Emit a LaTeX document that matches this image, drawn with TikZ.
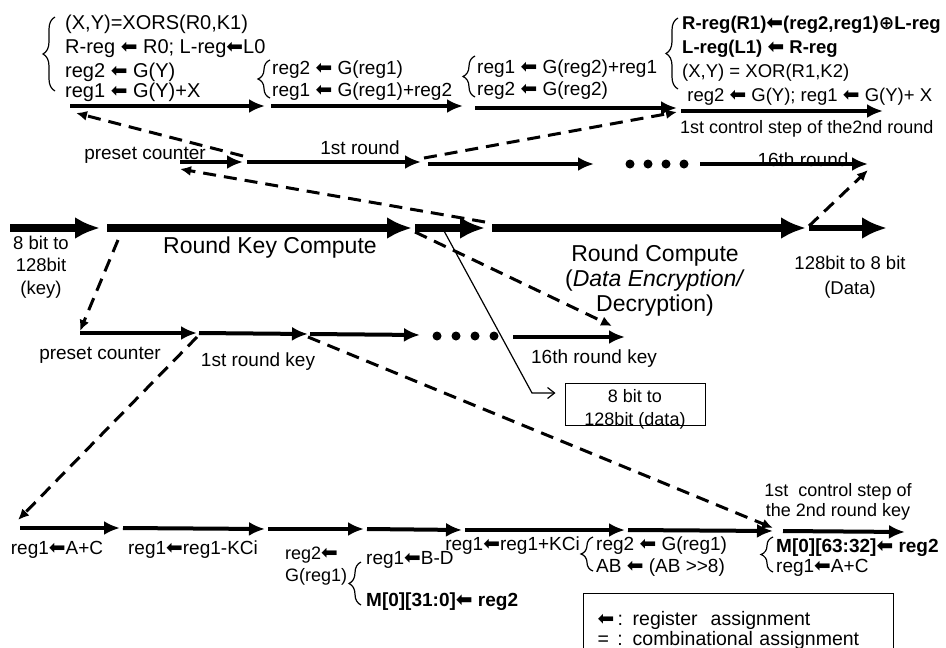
\documentclass[tikz,border=0pt]{standalone}
\usepackage{fontspec}
\setmainfont{Liberation Sans}
\newfontfamily\symfont{DejaVu Sans}
\usetikzlibrary{arrows.meta,decorations.pathreplacing}

\newcommand{\asg}{{\symfont\fontsize{20}{20}\selectfont ⬅}}
\newcommand{\xorop}{{\symfont ⊕}}

\begin{document}
\begin{tikzpicture}[x=1pt,y=-1pt,
  txt/.style={font=\fontsize{19}{24}\selectfont, inner sep=0pt},
  big/.style={font=\fontsize{23}{25}\selectfont, inner sep=0pt},
  ctl/.style={line width=4pt, -{Latex[length=16pt,width=14pt]}},
  fat/.style={line width=8.5pt, -{Latex[length=25pt,width=22pt]}},
  dsh/.style={line width=3pt, dash pattern=on 13pt off 8pt, -{Latex[length=11pt,width=10pt]}},
  brc/.style={decorate, decoration={brace, amplitude=12pt}, line width=1.2pt}]
  \useasboundingbox (0,0) rectangle (946,648);
  %
  \coordinate (a0) at (70,106);
  \coordinate (a1) at (265,106);
  \coordinate (a2) at (271,106);
  \coordinate (a3) at (463,106);
  \coordinate (a4) at (475,108);
  \coordinate (a5) at (677,108);
  \coordinate (a6) at (681,111);
  \coordinate (a7) at (883,111);
  %
  \coordinate (b0) at (180,162);
  \coordinate (b1) at (243,162);
  \coordinate (b2) at (247,162);
  \coordinate (b3) at (421,162);
  \coordinate (b4) at (428,164);
  \coordinate (b5) at (594,164);
  \coordinate (b6) at (700,164);
  \coordinate (b7) at (868,164);
  %
  \coordinate (c0) at (10,228);
  \coordinate (c1) at (100,228);
  \coordinate (c2) at (107,228);
  \coordinate (c3) at (412,228);
  \coordinate (c4) at (415,228);
  \coordinate (c5) at (485,228);
  \coordinate (c6) at (492,228);
  \coordinate (c7) at (806,228);
  \coordinate (c8) at (809,228);
  \coordinate (c9) at (887,228);
  %
  \coordinate (d0) at (80,333);
  \coordinate (d1) at (197,333);
  \coordinate (d2) at (308,334);
  \coordinate (d3) at (420,335);
  \coordinate (d4) at (513,337);
  \coordinate (d5) at (625,337);
  %
  \coordinate (e0) at (20,528);
  \coordinate (e1) at (120,528);
  \coordinate (e2) at (265,529);
  \coordinate (e3) at (364,529);
  \coordinate (e4) at (462,530);
  \coordinate (e5) at (625,530);
  \coordinate (e6) at (773,531);
  \coordinate (e7) at (783,531);
  \coordinate (e8) at (905,532);
  %
  \draw[ctl] (a0) -- (a1);
  \draw[ctl] (a2) -- (a3);
  \draw[ctl] (a4) -- (a5);
  \draw[ctl] (a6) -- (a7);
  %
  \draw[ctl] (b0) -- (b1);
  \draw[ctl] (b2) -- (b3);
  \draw[ctl] (b4) -- (b5);
  \draw[ctl] (b6) -- (b7);
  \foreach \x in {630,648,666,684} \fill (\x,164) circle (4.5pt);
  %
  \draw[fat] (c0) -- (c1);
  \draw[fat] (c2) -- (c3);
  \draw[fat] (c4) -- (c5);
  \draw[fat] (c6) -- (c7);
  \draw[fat, line width=6.5pt] (c8) -- (c9);
  %
  \draw[ctl] (d0) -- (d1);
  \draw[ctl] ([xshift=2pt]d1) -- (d2);
  \draw[ctl] ([xshift=2pt]d2) -- (d3);
  \draw[ctl] (d4) -- (d5);
  \foreach \x in {437,456,475,494} \fill (\x,336) circle (4.5pt);
  %
  \draw[ctl] (e0) -- (e1);
  \draw[ctl] ([xshift=3pt]e1) -- (e2);
  \draw[ctl] ([xshift=3pt]e2) -- (e3);
  \draw[ctl] ([xshift=3pt]e3) -- (e4);
  \draw[ctl] ([xshift=3pt]e4) -- (e5);
  \draw[ctl] ([xshift=3pt]e5) -- (e6);
  \draw[ctl] (e7) -- (e8);
  %
  \draw[dsh] ([yshift=6pt]b1) -- ([xshift=6pt,yshift=-7pt]a0);
  \draw[dsh] ([yshift=6pt]c5) -- ([yshift=-7pt]b0);
  \draw[dsh] ([xshift=3pt,yshift=4pt]b3) -- ([yshift=-4pt]a5);
  \draw[dsh] ([yshift=2pt]c8) -- ([yshift=-6pt]b7);
  \draw[dsh] ([yshift=-4pt]c4) -- ([xshift=-13pt,yshift=11pt]d5);
  \draw[dsh] ([xshift=11pt,yshift=-12pt]c2) -- ([yshift=2pt]d0);
  \draw[dsh] ([yshift=-4pt]d1) -- ([xshift=-2pt,yshift=8pt]e0);
  \draw[dsh] ([yshift=-3pt]d2) -- ([yshift=3pt]e6);
  %
  \draw[brc] (55,91) -- (55,17);
  \draw[brc] (270,98) -- (270,60);
  \draw[brc] (475,97) -- (475,56);
  \draw[brc] (678,89) -- (678,18);
  \draw[brc] (361,605) -- (361,562);
  \draw[brc] (593,571) -- (593,537);
  \draw[brc] (773,572) -- (773,537);
  %
  \node[txt, anchor=north west, align=left, font=\fontsize{20}{24}\selectfont] (g1) at (65,15) {(X,Y)=XORS(R0,K1)\\R-reg \asg\ R0; L-reg\asg L0\\reg2 \asg\ G(Y)\\[-4pt]reg1 \asg\ G(Y)+X};
  \node[txt, anchor=north west, align=left, font=\fontsize{19}{22}\selectfont] (g2) at (272,61) {reg2 \asg\ G(reg1)\\reg1 \asg\ G(reg1)+reg2};
  \node[txt, anchor=north west, align=left, font=\fontsize{19}{22}\selectfont] (g3) at (477,60) {reg1 \asg\ G(reg2)+reg1\\reg2 \asg\ G(reg2)};
  \node[txt, anchor=north west, align=left, font=\fontsize{18.5}{24}\selectfont] (g4) at (682,15.5) {\textbf{R-reg(R1)\asg(reg2,reg1)\xorop L-reg}\\\textbf{L-reg(L1) \asg\ R-reg}\\(X,Y) = XOR(R1,K2)\\~reg2 \asg\ G(Y); reg1 \asg\ G(Y)+ X};
  \node[txt, anchor=base west, font=\fontsize{18}{20}\selectfont] (ctl2) at (680,133.5) {1st control step of the2nd round};
  %
  \node[txt, anchor=base] (pc1) at (145,159.5) {preset counter};
  \node[txt, anchor=base] (r1) at (360,154.5) {1st round};
  \node[txt, anchor=base] (r16) at (803,166) {16th round};
  %
  \node[txt, anchor=north, align=center, font=\fontsize{18.5}{22.5}\selectfont] (inkey) at (41,235.5) {8 bit to\\128bit\\(key)};
  \node[big, anchor=base] (rkc) at (270,253) {Round Key Compute};
  \node[big, anchor=north, align=center] (rc) at (655,245) {Round Compute\\(\textit{Data Encryption/}\\Decryption)};
  \node[txt, anchor=north, align=center, font=\fontsize{18.5}{25}\selectfont] (outd) at (850,255.5) {128bit to 8 bit\\(Data)};
  %
  \node[txt, anchor=base] (pc2) at (100,359.5) {preset counter};
  \node[txt, anchor=base] (rk1) at (258,366.5) {1st round key};
  \node[txt, anchor=base] (rk16) at (594,363.5) {16th round key};
  %
  \node[draw, line width=1pt, minimum width=140pt, minimum height=42pt, inner sep=0pt] (dbox) at (635,404) {};
  \node[txt, anchor=north, align=center, font=\fontsize{18}{23}\selectfont] (dtxt) at (635,389.5) {8 bit to\\128bit (data)};
  \coordinate (bend) at (532,393);
  \draw[line width=1.2pt, -{Straight Barb[length=7pt,width=11pt]}] ([xshift=28pt,yshift=-1pt]c4) -- (bend) -- ([xshift=-9pt,yshift=11pt]dbox.west);
  %
  \node[txt, anchor=base] (l1) at (57,554.5) {reg1\asg A+C};
  \node[txt, anchor=base] (l2) at (193,554.5) {reg1\asg reg1-KCi};
  \node[txt, anchor=north west, align=left, font=\fontsize{18}{22}\selectfont] (l3) at (285,546.5) {reg2\asg\\G(reg1)};
  \node[txt, anchor=north west, align=left] (l4) at (366,551.5) {reg1\asg B-D\\[18pt]\textbf{M[0][31:0]\asg\ reg2}};
  \node[txt, anchor=base east] (l5) at (580,550.5) {reg1\asg reg1+KCi};
  \node[txt, anchor=north west, align=left, font=\fontsize{19}{22}\selectfont] (l6) at (596,536.5) {reg2 \asg\ G(reg1)\\AB \asg\ (AB >{}>8)};
  \node[txt, anchor=north west, align=left, font=\fontsize{19}{20}\selectfont] (l7) at (776,538.5) {\textbf{M[0][63:32]\asg\ reg2}\\reg1\asg A+C};
  \node[txt, anchor=north, align=center, font=\fontsize{18}{20}\selectfont] (ctlk) at (838,483.5) {1st~ control step of\\the 2nd round key};
  %
  \node[draw, line width=1pt, anchor=north west, align=left, font=\fontsize{19.5}{20}\selectfont, inner xsep=14pt, inner ysep=18pt, text width=282pt] (legend) at (583,593) {\makebox[20pt][l]{\asg}: register~ assignment\\\makebox[20pt][l]{=}: combinational assignment};
\end{tikzpicture}
\end{document}
